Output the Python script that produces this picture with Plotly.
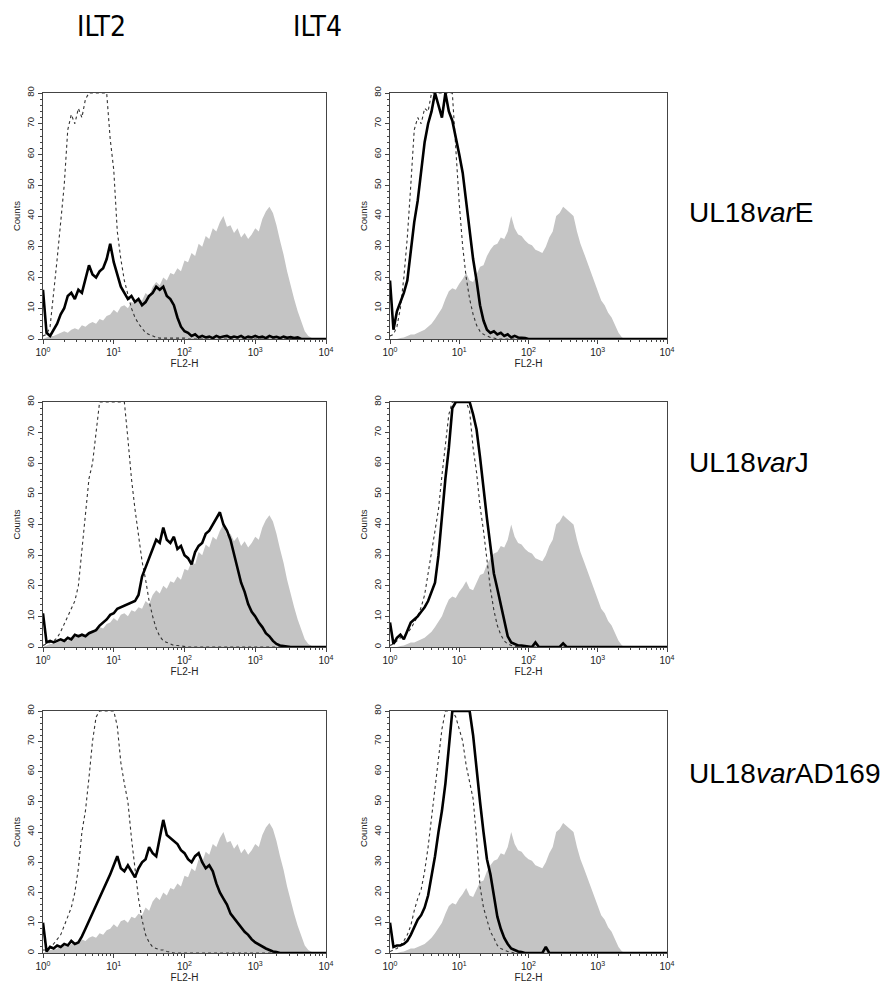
import plotly.graph_objects as go

# ---- bins (log10 of FL2-H channel centre) ----
bin_log = [round(i * 0.05, 2) for i in range(81)]
fl2h = [10 ** v for v in bin_log]

# ---- grey reference histograms (same in each column) ----
gray_ilt2 = [0, 0.5, 1, 1, 1.5, 2, 2.5, 2, 3, 3.5, 3, 4.5, 4, 5, 5.5, 5, 6.5, 6, 7.5, 8,
             9.5, 8.5, 10.5, 11, 10, 12, 11.5, 13, 12.5, 15, 14, 17, 18.5, 17.5, 20, 19, 21.5, 21, 23, 22,
             25.5, 25, 28, 27, 31, 30, 33.5, 32.5, 36, 35, 38, 40, 36.5, 37, 34.5, 36, 33, 34.5, 32.5, 34,
             36, 35, 39, 41.5, 43, 41, 37, 32, 27.5, 22, 17, 13, 9, 5.5, 2.5, 1, 0.3, 0, 0, 0, 0]
gray_ilt4 = [0, 0, 0, 0.3, 0.5, 1, 1.5, 1.5, 2, 2.5, 3, 4, 5, 6.5, 8.5, 10, 13, 15.5, 16.5, 16,
             18, 19.5, 21.5, 19, 18.5, 21, 23.5, 24, 27, 29, 30.5, 31, 33, 32.5, 35, 40, 36, 34, 33.5, 32,
             31, 30.5, 29, 28.5, 28, 30, 33, 35, 40, 41, 43, 42, 41, 40, 35, 31, 28, 25, 22, 18.5,
             15.5, 12.5, 11, 8.5, 7, 4.5, 2, 0.5, 0, 0, 0, 0, 0, 0, 0, 0, 0, 0, 0, 0, 0]

# ---- ILT2 ----
ilt2_varE_ctrl = [1, 1.5, 4, 14, 26, 38, 50, 68, 73, 70, 75, 72, 78, 80, 80, 80, 80, 80, 80, 65,
                  55, 35, 26, 19, 14, 10, 7, 5, 3.5, 2, 1.5, 1, 0.5, 0.3, 0.3, 0.3, 0.3, 0.3, 0.3, 0.3,
                  0.3, 0, 0, 0, 0, 0, 0, 0, 0, 0, 0, 0, 0, 0, 0, 0, 0, 0, 0, 0,
                  0, 0, 0, 0, 0, 0, 0, 0, 0, 0, 0, 0, 0, 0, 0, 0, 0, 0, 0, 0, 0]
ilt2_varE = [16, 2, 1, 3, 5, 8, 10, 14, 15, 13, 16, 15, 20, 24, 21, 20, 22, 23, 26, 31,
             25, 21, 17, 15, 13, 14, 12, 13, 11, 12, 14, 15, 17, 16, 17, 14, 13, 11, 7, 4,
             2.5, 2, 1, 1.5, 0.5, 1, 0.5, 0.8, 0.3, 1, 0.5, 0.8, 1, 0.4, 0.8, 0.5, 1, 0.3, 0.8, 0.5,
             1, 0.5, 0.8, 0.3, 1, 0.5, 0.7, 0.3, 0.8, 0.4, 0.6, 0.3, 0.5, 0, 0, 0, 0, 0, 0, 0, 0]
ilt2_varJ_ctrl = [0.5, 1, 1.5, 2, 3, 5, 7.5, 10, 12, 15, 20, 32, 44, 55, 60, 70, 80, 80, 80, 80,
                  80, 80, 80, 80, 68, 55, 45, 36, 28, 22, 15, 10, 6, 3.5, 2, 1.5, 1, 0.5, 0.5, 0.3,
                  0, 0, 0, 0, 0, 0, 0, 0, 0, 0, 0, 0, 0, 0, 0, 0, 0, 0, 0, 0,
                  0, 0, 0, 0, 0, 0, 0, 0, 0, 0, 0, 0, 0, 0, 0, 0, 0, 0, 0, 0, 0]
ilt2_varJ = [11, 1.5, 2, 1.5, 2, 2.5, 2, 3, 2.5, 4, 3.5, 4, 3.5, 4.5, 5, 5.5, 7, 8, 9, 10.5,
             11, 12.5, 13, 13.5, 14, 14.5, 15, 17, 23, 26, 29, 32, 35, 34, 39, 35, 34, 36, 32, 33,
             30, 29, 27, 31, 33, 34, 37, 38, 40, 42, 44, 40, 38, 35, 30, 25, 21, 18, 14, 11.5,
             10, 8, 6.5, 4.5, 3.5, 2, 1, 0.5, 0.3, 0, 0, 0, 0, 0, 0, 0, 0, 0, 0, 0, 0]
ilt2_varAD169_ctrl = [1, 1, 2, 3, 4.5, 6, 9, 12, 15, 20, 28, 40, 47, 58, 70, 78, 80, 80, 80, 80,
                      80, 75, 63, 56, 50, 38, 27, 18, 11, 6, 3.5, 2, 1.5, 1, 1, 0.5, 0.3, 0, 0, 0,
                      0, 0, 0, 0, 0, 0, 0, 0, 0, 0, 0, 0, 0, 0, 0, 0, 0, 0, 0, 0,
                      0, 0, 0, 0, 0, 0, 0, 0, 0, 0, 0, 0, 0, 0, 0, 0, 0, 0, 0, 0, 0]
ilt2_varAD169 = [10, 0.5, 2, 1.5, 2.5, 2, 3, 2.5, 4, 3, 3.5, 5.5, 8, 10.5, 13, 16, 18, 21, 23, 26,
                 29, 32, 28, 27, 29, 27, 25, 28, 30, 31, 35, 33, 32, 38, 44, 39, 38, 37, 36, 34,
                 33, 31, 30, 32, 33, 30, 28, 29, 27, 23, 20, 18, 16, 13, 11.5, 10, 8.5, 7, 6, 4.5,
                 3.5, 2.8, 2, 1.5, 1, 0.5, 0.3, 0, 0, 0, 0, 0, 0, 0, 0, 0, 0, 0, 0, 0, 0]

# ---- ILT4 ----
ilt4_varE_ctrl = [1, 1.5, 4, 10, 20, 33, 50, 68, 72, 70, 75, 74, 80, 80, 80, 80, 80, 80, 80, 62,
                  44, 30, 20, 13, 8, 4.5, 2.5, 1.5, 1, 0.5, 0.3, 0, 0, 0, 0, 0, 0, 0, 0, 0,
                  0, 0, 0, 0, 0, 0, 0, 0, 0, 0, 0, 0, 0, 0, 0, 0, 0, 0, 0, 0,
                  0, 0, 0, 0, 0, 0, 0, 0, 0, 0, 0, 0, 0, 0, 0, 0, 0, 0, 0, 0, 0]
ilt4_varE = [19, 3, 9, 12, 15, 19, 29, 38, 45, 55, 64, 70, 74, 80, 76, 72, 80, 74, 71, 66,
             60, 54, 44, 35, 26, 19, 11, 6, 3, 2, 2.5, 1.5, 2, 1, 1.5, 0.5, 1, 0.5, 0.5, 0.3,
             0, 0, 0, 0, 0, 0, 0, 0, 0, 0, 0, 0, 0, 0, 0, 0, 0, 0, 0, 0,
             0, 0, 0, 0, 0, 0, 0, 0, 0, 0, 0, 0, 0, 0, 0, 0, 0, 0, 0, 0, 0]
ilt4_varJ_ctrl = [0.5, 1, 2, 3, 3.5, 4.5, 6, 8, 10, 13, 17, 24, 31, 38, 45, 56, 66, 76, 80, 80,
                  80, 80, 80, 77, 65, 57, 46, 38, 29, 19, 12, 7, 4, 2, 1, 0.5, 0.3, 0, 0, 0,
                  0, 0, 0, 0, 0, 0, 0, 0, 0, 0, 0, 0, 0, 0, 0, 0, 0, 0, 0, 0,
                  0, 0, 0, 0, 0, 0, 0, 0, 0, 0, 0, 0, 0, 0, 0, 0, 0, 0, 0, 0, 0]
ilt4_varJ = [8, 1, 3, 4, 2.5, 5, 8, 9, 10, 11.5, 13, 15, 18, 21, 30, 44, 55, 65, 78, 80,
             80, 80, 80, 80, 76, 71, 62, 51, 42, 33, 24, 19, 14, 8, 3.5, 1.5, 1, 0.5, 0.5, 0.3,
             0, 0, 1.5, 0, 0, 0, 0, 0, 0, 0, 1.2, 0, 0, 0, 0, 0, 0, 0, 0, 0,
             0, 0, 0, 0, 0, 0, 0, 0, 0, 0, 0, 0, 0, 0, 0, 0, 0, 0, 0, 0, 0]
ilt4_varAD169_ctrl = [0.5, 1, 1.5, 2.5, 4, 6, 9, 14, 18, 21, 27, 35, 45, 55, 66, 74, 80, 80, 80, 78,
                      74, 70, 62, 57, 51, 38, 22, 15, 11, 7, 5, 2.5, 1.5, 1, 0.5, 0.3, 0, 0, 0, 0,
                      0, 0, 0, 0, 0, 0, 0, 0, 0, 0, 0, 0, 0, 0, 0, 0, 0, 0, 0, 0,
                      0, 0, 0, 0, 0, 0, 0, 0, 0, 0, 0, 0, 0, 0, 0, 0, 0, 0, 0, 0, 0]
ilt4_varAD169 = [10, 2, 2.5, 2.5, 3, 4, 6, 8.5, 11, 12.5, 15, 19, 25, 32, 40, 47, 56, 68, 80, 80,
                 80, 80, 80, 80, 72, 60, 50, 40, 31, 26, 19, 12, 8, 5, 3, 1.5, 1, 0.5, 0.3, 0,
                 0, 0, 0, 0, 0, 2, 0, 0, 0, 0, 0, 0, 0, 0, 0, 0, 0, 0, 0, 0,
                 0, 0, 0, 0, 0, 0, 0, 0, 0, 0, 0, 0, 0, 0, 0, 0, 0, 0, 0, 0, 0]

column_titles = ["ILT2", "ILT4"]
row_labels = ["UL18<i>var</i>E", "UL18<i>var</i>J", "UL18<i>var</i>AD169"]
x_tick_vals = [1, 10, 100, 1000, 10000]
x_tick_text = ["10<sup>0</sup>", "10<sup>1</sup>", "10<sup>2</sup>", "10<sup>3</sup>", "10<sup>4</sup>"]
y_tick_vals = [0, 10, 20, 30, 40, 50, 60, 70, 80]

panels = [
    # (row, col, gray, control, sample)
    (0, 0, gray_ilt2, ilt2_varE_ctrl, ilt2_varE),
    (0, 1, gray_ilt4, ilt4_varE_ctrl, ilt4_varE),
    (1, 0, gray_ilt2, ilt2_varJ_ctrl, ilt2_varJ),
    (1, 1, gray_ilt4, ilt4_varJ_ctrl, ilt4_varJ),
    (2, 0, gray_ilt2, ilt2_varAD169_ctrl, ilt2_varAD169),
    (2, 1, gray_ilt4, ilt4_varAD169_ctrl, ilt4_varAD169),
]

W, H = 894, 985
col_px = [(43, 326), (390, 667)]
row_px = [(93, 339), (402, 647), (711, 953)]

minor_x = []
for dec in [1, 10, 100, 1000]:
    for m in range(2, 10):
        minor_x.append(dec * m)

fig = go.Figure()
layout = dict(width=W, height=H, margin=dict(l=0, r=0, t=0, b=0, autoexpand=False),
              paper_bgcolor="white", plot_bgcolor="white", showlegend=False,
              font=dict(family="Liberation Sans, Arial, sans-serif", color="#222"))

axcol = "#444"
for k, (r, c, gray, ctrl, samp) in enumerate(panels):
    n = k + 1
    xa = "x" if n == 1 else f"x{n}"
    ya = "y" if n == 1 else f"y{n}"
    fig.add_trace(go.Scatter(x=fl2h, y=gray, xaxis=xa, yaxis=ya, mode="lines",
                             line=dict(width=0), fill="tozeroy",
                             fillcolor="#c4c4c4", hoverinfo="skip"))
    fig.add_trace(go.Scatter(x=fl2h, y=ctrl, xaxis=xa, yaxis=ya, mode="lines",
                             line=dict(color="#333", width=1.1, dash="dot")))
    fig.add_trace(go.Scatter(x=fl2h, y=samp, xaxis=xa, yaxis=ya, mode="lines",
                             line=dict(color="black", width=2.6)))
    x0, x1 = col_px[c]
    y0, y1 = row_px[r]
    xname = "xaxis" if n == 1 else f"xaxis{n}"
    yname = "yaxis" if n == 1 else f"yaxis{n}"
    layout[xname] = dict(domain=[x0 / W, x1 / W], anchor=ya, type="log", range=[0, 4],
                         automargin=False,
                         tickmode="array", tickvals=x_tick_vals, ticktext=x_tick_text,
                         ticks="outside", ticklen=4, tickwidth=1, tickcolor=axcol,
                         showline=True, linecolor=axcol, linewidth=1, mirror=True,
                         showgrid=False, zeroline=False,
                         tickfont=dict(size=10, color="#222"),
                         minor=dict(tickmode="array", tickvals=minor_x, ticks="outside",
                                    ticklen=2, tickcolor=axcol),
                         title=dict(text="FL2-H", font=dict(size=10, color="#222"), standoff=0))
    layout[yname] = dict(domain=[1 - y1 / H, 1 - y0 / H], anchor=xa, range=[0, 80],
                         automargin=False,
                         tickmode="array", tickvals=y_tick_vals, tickangle=-90,
                         ticks="outside", ticklen=4, tickwidth=1, tickcolor=axcol,
                         showline=True, linecolor=axcol, linewidth=1, mirror=True,
                         showgrid=False, zeroline=False,
                         tickfont=dict(size=9.5, color="#222"),
                         minor=dict(dtick=2, ticks="outside", ticklen=2, tickcolor=axcol),
                         title=dict(text="Counts", font=dict(size=9.5, color="#222"), standoff=2))

annotations = []
title_x = [101, 317]
for txt, xp in zip(column_titles, title_x):
    annotations.append(dict(text=txt, x=xp / W, y=1 - 27 / H, xref="paper", yref="paper",
                            xanchor="center", yanchor="middle", showarrow=False,
                            font=dict(size=28, color="black",
                                      family="Liberation Sans Narrow, Arial Narrow, DejaVu Sans Condensed, sans-serif")))
label_y = [212, 462, 773]
for txt, yp in zip(row_labels, label_y):
    annotations.append(dict(text=txt, x=687 / W, y=1 - yp / H, xref="paper", yref="paper",
                            xanchor="left", yanchor="middle", showarrow=False,
                            font=dict(size=28, color="black", family="Liberation Sans, Arial, sans-serif")))
layout["annotations"] = annotations
fig.update_layout(**layout)
fig.write_html("out.html", config={"displayModeBar": False},
               post_script="document.body.style.margin='0';document.body.style.overflow='hidden';")
